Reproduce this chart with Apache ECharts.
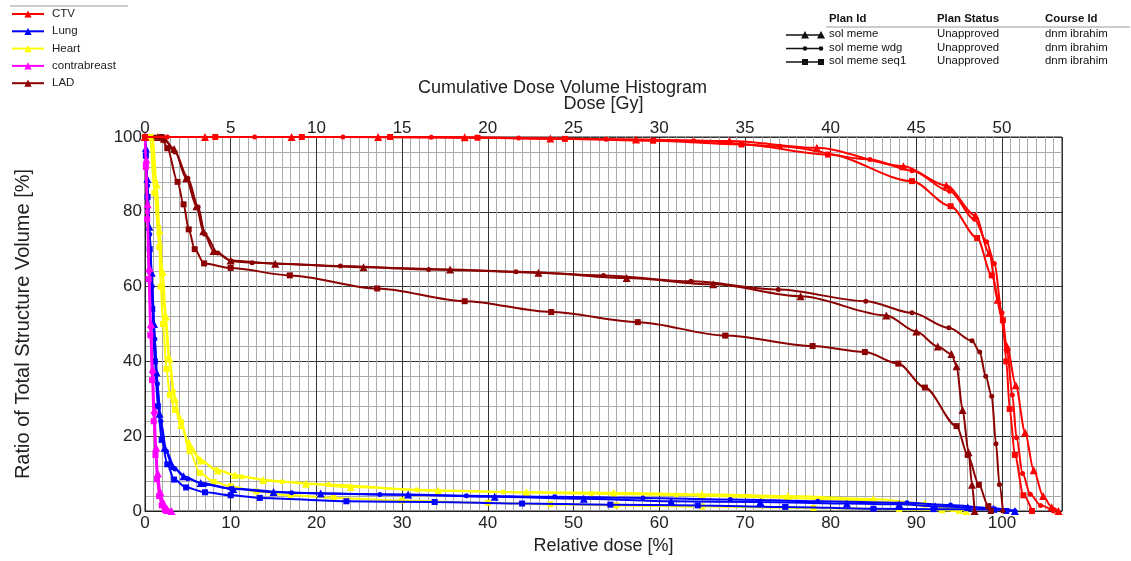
<!DOCTYPE html>
<html>
<head>
<meta charset="utf-8">
<script src="https://cdn.jsdelivr.net/npm/echarts@6/dist/echarts.min.js"></script>
<style>
html,body{margin:0;padding:0;background:#fff;}
#chart{width:1131px;height:561px;}
</style>
</head>
<body>
<div id="chart"></div>
<script>
// ---------------- DATA ----------------
const structureNames = ['CTV', 'Lung', 'Heart', 'contrabreast', 'LAD'];
const planIds = ['sol meme', 'sol meme wdg', 'sol meme seq1'];
const planStatus = ['Unapproved', 'Unapproved', 'Unapproved'];
const courseIds = ['dnm ibrahim', 'dnm ibrahim', 'dnm ibrahim'];
const relDoseTicks = [0, 10, 20, 30, 40, 50, 60, 70, 80, 90, 100];
const doseGyTicks = [0, 5, 10, 15, 20, 25, 30, 35, 40, 45, 50];
const volumeTicks = [0, 20, 40, 60, 80, 100];

// [relative dose %, volume %]
const ctvMeme = [[0,100],[7,100],[17.1,100],[27.2,100],[37.3,99.9],[47.3,99.6],[57.3,99.3],[68.2,98.9],[78.4,97.1],[88.5,92.2],[93.5,87],[96.9,79],[98.5,69],[99.5,56.5],[100.6,44],[101.6,33.6],[102.7,21],[103.7,10.9],[104.8,4],[105.8,1],[106.6,0]];
const ctvWdg = [[0,100],[2.6,100],[12.8,100],[23.1,100],[33.4,99.9],[43.6,99.7],[53.8,99.4],[64,99],[74.1,97.5],[84.6,94],[89.5,91],[93.9,85.5],[96.8,78],[98.2,72],[99.1,66.2],[100,53],[100.6,42.7],[101.2,31],[101.7,19.6],[102.4,10],[103.3,4.5],[104.5,1.5],[106,0]];
const ctvSeq1 = [[0,100],[8.2,100],[18.3,100],[28.6,100],[38.8,99.8],[49,99.5],[59.3,99],[69.6,98],[79.7,95.3],[89.5,88.2],[94,81.5],[97.1,73],[98.8,63],[100.1,51],[100.5,40],[100.9,27.3],[101.5,15],[102.5,4.2],[103.5,0]];

const lungMeme = [[0,100],[0.1,97],[0.27,88.8],[0.5,76],[0.78,63.7],[1.05,50],[1.35,37],[1.7,26],[2.3,16.9],[3.2,12],[4.5,9.3],[6.5,7.5],[10.3,5.9],[15,5.1],[20.5,4.7],[30.7,4.4],[40.8,3.8],[51.2,3.3],[61.4,2.6],[71.8,2.4],[81.9,2],[88,1.8],[92.2,1.3],[96,1],[99,0.6],[101.5,0]];
const lungWdg = [[0,100],[0.12,96],[0.3,87],[0.55,74],[0.85,60],[1.15,46],[1.45,34],[1.85,24],[2.5,16],[3.5,11.2],[5,8.6],[7,7.1],[10,6],[17.1,4.9],[27.4,4.4],[37.5,4.1],[47.8,3.8],[58.1,3.5],[68.3,3.1],[78.5,2.6],[88.9,2.2],[94,1.6],[98.5,0.8],[101.5,0]];
const lungSeq1 = [[0,100],[0.1,95],[0.3,84],[0.55,70],[0.85,54],[1.15,40],[1.5,28],[1.95,19],[2.6,12.5],[3.4,8.4],[4.8,6.3],[7,5],[10,4.2],[13.4,3.5],[23.5,2.6],[33.8,2.4],[44,2],[54.3,1.7],[64.5,1.5],[74.7,1.1],[85,0.6],[92,0.5],[99,0.4],[100.5,0]];

const heartMeme = [[0,100],[0.9,100],[1.37,87.3],[1.7,75],[2.07,63.9],[2.45,52],[2.85,40.7],[3.5,30],[4.2,23],[5.2,17.8],[6.5,13.5],[8.5,10.8],[10.5,9.6],[13.8,8.3],[18.8,7.3],[24,6.4],[34.2,5.4],[44.5,5],[54.7,4.9],[65,4.5],[75,4],[85,3.2],[91,2],[94.5,0.8],[95.8,0]];
const heartWdg = [[0,100],[0.8,100],[1.25,88],[1.6,76],[1.95,64],[2.35,52],[2.75,41],[3.3,32],[4,25],[5,18.5],[6.3,14],[8.3,11],[11.3,9.1],[16,7.8],[21.4,7.1],[31.7,5.7],[41.8,5.1],[52.1,4.6],[62,4.3],[72,3.7],[82,3],[89,2],[93,1],[95,0]];
const heartSeq1 = [[0,100],[0.6,100],[1.1,85],[1.67,70.6],[1.83,60],[2.1,50],[2.5,38],[2.9,31],[3.5,27],[4.2,23.7],[5.2,16],[6.4,10.2],[8,7.8],[10,6.6],[13,5.2],[17,4.2],[22,3.5],[30,2.8],[40,2.2],[47.3,1.8],[55,1.5],[65,1.2],[78,0.8],[88,0.5],[93,0.2],[95,0]];

const contraMeme = [[0,100],[0.15,94],[0.3,82],[0.5,65],[0.7,50],[0.9,38],[1.1,27],[1.3,17],[1.5,10],[1.8,5],[2.2,2],[2.6,0.5],[3.1,0]];
const contraWdg = [[0,100],[0.12,93],[0.28,80],[0.47,64],[0.67,49],[0.87,37],[1.07,26],[1.27,16],[1.45,9.5],[1.7,4.5],[2,2],[2.4,0.4],[2.7,0]];
const contraSeq1 = [[0,100],[0.1,92],[0.25,78],[0.42,62],[0.62,47],[0.82,35],[1.02,24],[1.22,15],[1.4,8.5],[1.65,4],[1.95,1.5],[2.3,0.3],[2.5,0]];

const ladMeme = [[0,100],[1.5,100],[2.2,99.5],[3.4,96.8],[4.8,89],[6,81.5],[6.8,74.8],[8,69.5],[10,67],[15.2,66.1],[25.5,65.2],[35.6,64.6],[45.9,63.7],[56.2,62.3],[66.3,60.6],[76.5,57.4],[86.5,52.3],[90,48],[92.5,44],[94.1,42],[94.7,38.7],[95.4,27],[96.1,15.7],[96.5,7],[96.8,0]];
const ladWdg = [[0,100],[1.2,100],[2.2,99.5],[3.5,96],[5,89],[6.2,81.3],[7,74],[8.5,69],[10.1,66.8],[12.5,66.4],[22.8,65.5],[33.1,64.6],[43.3,64],[53.5,63],[63.7,61.4],[73.9,59.2],[84.1,56.1],[89.5,53],[93.8,49],[96.5,45.5],[97.4,42.5],[98.1,36],[98.8,30.7],[99.3,18],[99.7,7.1],[100.1,0]];
const ladSeq1 = [[0,100],[1.95,100],[2.6,97],[3.8,88],[4.5,82],[5.1,75.3],[5.8,70],[6.9,66.2],[10,65],[16.9,63],[27.1,59.5],[37.3,56.1],[47.4,53.2],[57.5,50.5],[67.7,46.9],[77.9,44.1],[84,42.5],[87.9,39.4],[91,33],[94.7,22.7],[96,15],[97.3,7],[98.4,1.3],[98.7,0]];

// --------------- STYLE ----------------
const FONT = 'Liberation Sans, Arial, sans-serif';
const colors = {CTV:'#ff0000', Lung:'#0000ff', Heart:'#ffff00', contrabreast:'#ff00ff', LAD:'#8b0000'};
const zOrder = {Heart:2, Lung:3, contrabreast:4, LAD:5, CTV:6};
const planSymbol = ['triangle', 'circle', 'rect'];
const planSymbolSize = [8, 5, 6];
const curves = {
  CTV: [ctvMeme, ctvWdg, ctvSeq1],
  Lung: [lungMeme, lungWdg, lungSeq1],
  Heart: [heartMeme, heartWdg, heartSeq1],
  contrabreast: [contraMeme, contraWdg, contraSeq1],
  LAD: [ladMeme, ladWdg, ladSeq1]
};

const series = [];
structureNames.forEach(function (s) {
  curves[s].forEach(function (d, i) {
    series.push({
      name: s,
      type: 'line',
      data: d,
      smooth: 0.3,
      smoothMonotone: 'x',
      showSymbol: true,
      symbol: planSymbol[i],
      symbolSize: planSymbolSize[i],
      lineStyle: {color: colors[s], width: 2},
      itemStyle: {color: colors[s]},
      z: zOrder[s],
      emphasis: {disabled: true},
      animation: false
    });
  });
});

// right legend table (graphic)
const g = [];
g.push({type:'line', shape:{x1:10, y1:6, x2:128, y2:6}, style:{stroke:'#999', lineWidth:1}});
const colX = [829, 937, 1045];
['Plan Id', 'Plan Status', 'Course Id'].forEach(function (t, i) {
  g.push({type:'text', left:colX[i], top:13, style:{text:t, font:'bold 11.4px ' + FONT, fill:'#111'}});
});
g.push({type:'line', shape:{x1:826, y1:27, x2:1130, y2:27}, style:{stroke:'#999', lineWidth:1}});
planIds.forEach(function (p, i) {
  const y = 35 + i * 13.5;
  g.push({type:'line', shape:{x1:786, y1:y, x2:822, y2:y}, style:{stroke:'#111', lineWidth:1.3}});
  [805, 821].forEach(function (cx) {
    if (i === 0) g.push({type:'polygon', shape:{points:[[cx - 4, y + 3.5],[cx + 4, y + 3.5],[cx, y - 4]]}, style:{fill:'#111'}});
    else if (i === 1) g.push({type:'circle', shape:{cx:cx, cy:y, r:2.3}, style:{fill:'#111'}});
    else g.push({type:'rect', shape:{x:cx - 3, y:y - 3, width:6, height:6}, style:{fill:'#111'}});
  });
  g.push({type:'text', left:colX[0], top:y - 6.5, style:{text:p, font:'11.4px ' + FONT, fill:'#111'}});
  g.push({type:'text', left:colX[1], top:y - 6.5, style:{text:planStatus[i], font:'11.4px ' + FONT, fill:'#111'}});
  g.push({type:'text', left:colX[2], top:y - 6.5, style:{text:courseIds[i], font:'11.4px ' + FONT, fill:'#111'}});
});

const chart = echarts.init(document.getElementById('chart'), null, {renderer:'canvas'});
chart.setOption({
  animation: false,
  textStyle: {fontFamily: FONT},
  title: {
    text: 'Cumulative Dose Volume Histogram',
    left: 418, top: 79,
    padding: 0,
    textStyle: {fontSize: 18, fontWeight: 'normal', color: '#222', fontFamily: FONT}
  },
  legend: {
    data: structureNames,
    orient: 'vertical',
    left: 11, top: 8,
    itemWidth: 32, itemHeight: 9, itemGap: 5.3,
    padding: 0,
    textStyle: {fontSize: 11.5, color: '#222', fontFamily: FONT, padding: [0, 0, 0, 3]},
    selectedMode: false
  },
  grid: {left:145, right:69, top:137, bottom:50, show:true, borderColor:'#222', borderWidth:1, containLabel:false},
  xAxis: [{
    type: 'value', position: 'bottom', min: 0, max: 107, interval: 10,
    name: 'Relative dose [%]', nameLocation: 'middle', nameGap: 22,
    nameTextStyle: {fontSize: 18, color: '#222', fontFamily: FONT},
    axisLine: {show: true, lineStyle: {color: '#222'}},
    axisTick: {show: false},
    axisLabel: {fontSize: 17, color: '#222', margin: 4, showMaxLabel: false, fontFamily: FONT,
      formatter: function (v) { return relDoseTicks.indexOf(v) >= 0 ? String(v) : ''; }},
    splitLine: {show: true, lineStyle: {color: '#333', width: 1}},
    minorTick: {show: false, splitNumber: 10},
    minorSplitLine: {show: true, lineStyle: {color: '#aaa', width: 1}}
  }, {
    type: 'value', position: 'top', min: 0, max: 53.5, interval: 5,
    name: 'Dose [Gy]', nameLocation: 'middle', nameGap: 24,
    nameTextStyle: {fontSize: 18, color: '#222', fontFamily: FONT},
    axisLine: {show: false},
    axisTick: {show: false},
    axisLabel: {fontSize: 17, color: '#222', margin: 0, showMaxLabel: false, fontFamily: FONT,
      formatter: function (v) { return doseGyTicks.indexOf(v) >= 0 ? String(v) : ''; }},
    splitLine: {show: false}
  }],
  yAxis: {
    type: 'value', min: 0, max: 100, interval: 20,
    name: 'Ratio of Total Structure Volume [%]', nameLocation: 'middle', nameGap: 112,
    nameTextStyle: {fontSize: 20, color: '#222', fontFamily: FONT},
    axisLine: {show: true, lineStyle: {color: '#222'}},
    axisTick: {show: false},
    axisLabel: {fontSize: 17, color: '#222', margin: 3, fontFamily: FONT,
      formatter: function (v) { return volumeTicks.indexOf(v) >= 0 ? String(v) : ''; }},
    splitLine: {show: true, lineStyle: {color: '#333', width: 1}},
    minorTick: {show: false, splitNumber: 5},
    minorSplitLine: {show: true, lineStyle: {color: '#aaa', width: 1}}
  },
  graphic: g,
  series: series
});
</script>
</body>
</html>
